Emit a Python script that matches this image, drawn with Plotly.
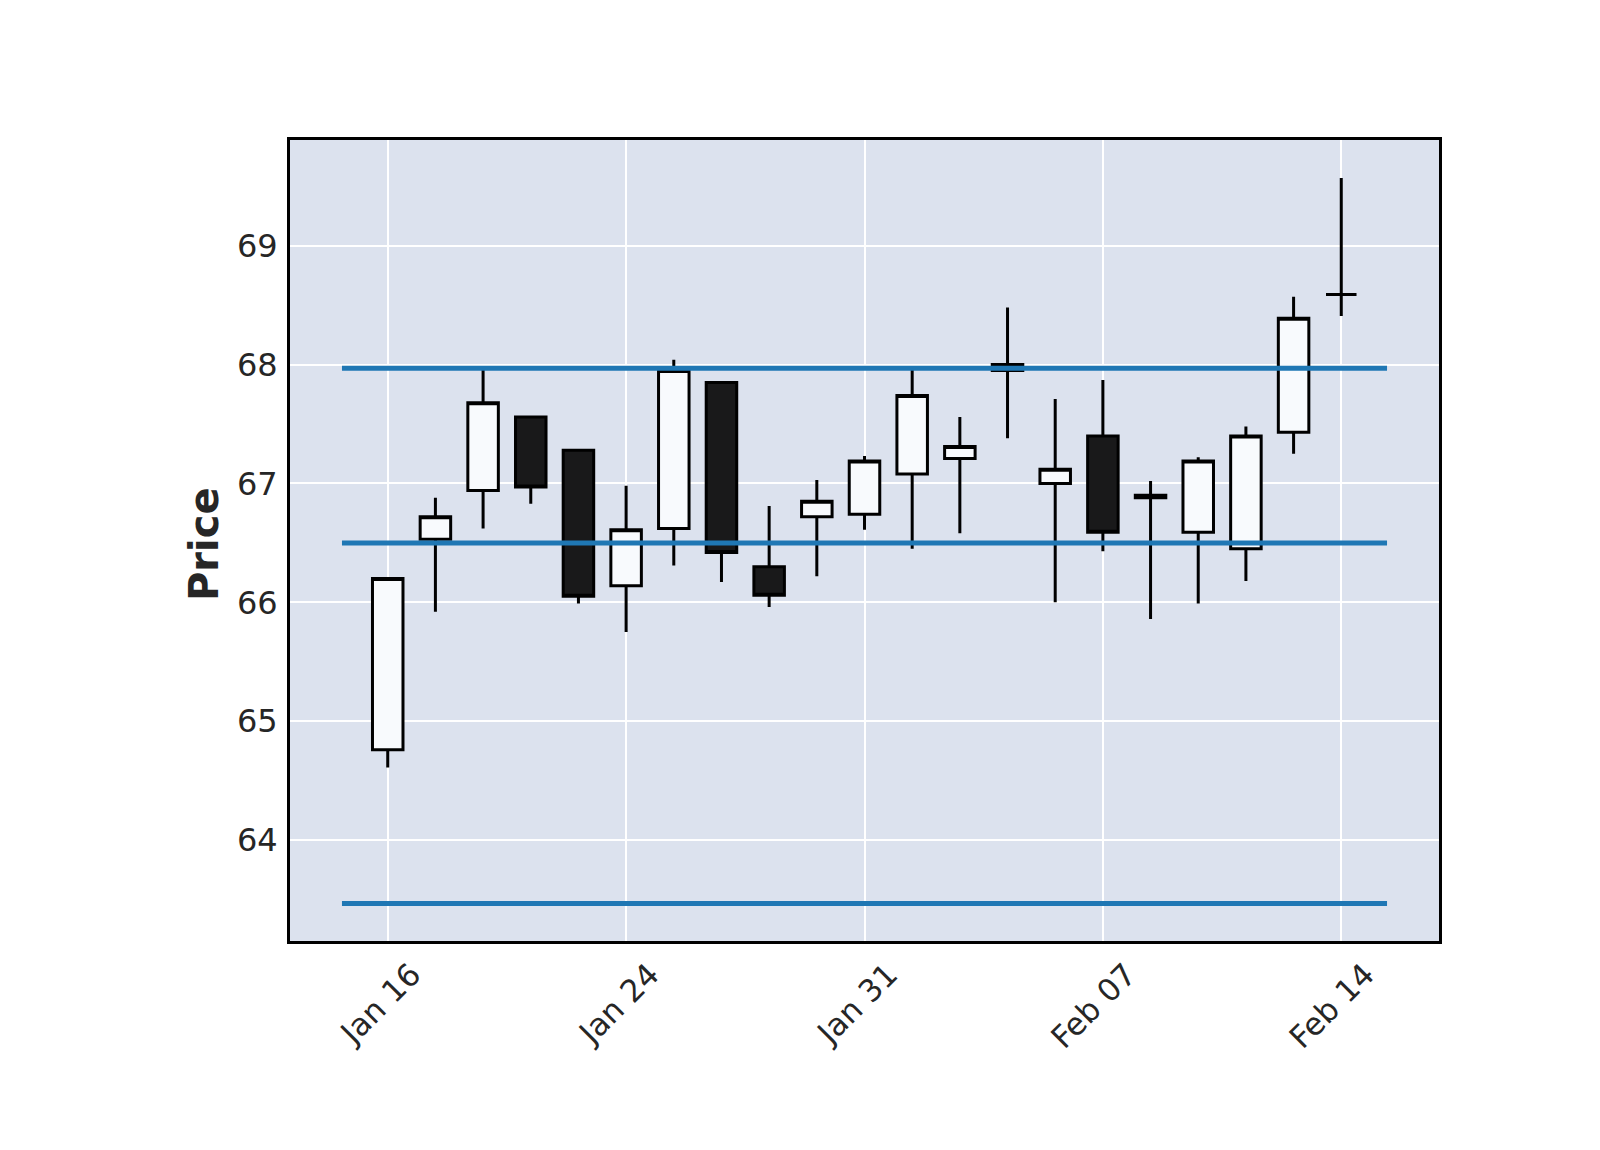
import plotly.graph_objects as go

# ---- data ----
dates = ["2023-01-16", "2023-01-18", "2023-01-19", "2023-01-20", "2023-01-23",
         "2023-01-24", "2023-01-25", "2023-01-26", "2023-01-27", "2023-01-30",
         "2023-01-31", "2023-02-01", "2023-02-02", "2023-02-03", "2023-02-06",
         "2023-02-07", "2023-02-08", "2023-02-09", "2023-02-10", "2023-02-13",
         "2023-02-14"]
opens  = [64.76, 66.53, 66.94, 67.56, 67.28, 66.14, 66.62, 67.85, 66.30, 66.72,
          66.74, 67.08, 67.21, 67.95, 67.00, 67.40, 66.90, 66.59, 66.45, 67.43, 68.59]
highs  = [66.20, 66.88, 67.96, 67.56, 67.28, 66.98, 68.04, 67.85, 66.81, 67.03,
          67.23, 67.96, 67.56, 68.48, 67.71, 67.87, 67.02, 67.22, 67.48, 68.57, 69.57]
lows   = [64.61, 65.92, 66.62, 66.83, 65.99, 65.75, 66.31, 66.17, 65.96, 66.22,
          66.61, 66.45, 66.58, 67.38, 66.00, 66.43, 65.86, 65.99, 66.18, 67.25, 68.41]
closes = [66.20, 66.72, 67.68, 66.97, 66.05, 66.61, 67.95, 66.42, 66.06, 66.85,
          67.19, 67.74, 67.31, 68.00, 67.12, 66.59, 66.88, 67.19, 67.40, 68.39, 68.59]
tick_dates = ["2023-01-16", "2023-01-24", "2023-01-31", "2023-02-07", "2023-02-14"]
tick_labels = ["Jan 16", "Jan 24", "Jan 31", "Feb 07", "Feb 14"]
hline_levels = [67.97, 66.50, 63.465]

# ---- figure ----
x_idx = list(range(len(dates)))
tick_vals = [dates.index(d) for d in tick_dates]
line_pad = 0.96

fig = go.Figure()
fig.add_trace(go.Candlestick(
    x=x_idx, open=opens, high=highs, low=lows, close=closes,
    increasing=dict(fillcolor="#F8FAFD", line=dict(color="#000000", width=3)),
    decreasing=dict(fillcolor="#19191A", line=dict(color="#000000", width=3)),
    whiskerwidth=0, showlegend=False, hoverinfo="x+y",
))
for lvl in hline_levels:
    fig.add_trace(go.Scatter(
        x=[x_idx[0] - line_pad, x_idx[-1] + line_pad], y=[lvl, lvl],
        mode="lines", line=dict(color="#1F77B4", width=5),
        showlegend=False, hoverinfo="skip",
    ))

fig.update_layout(
    width=1600, height=1150,
    margin=dict(l=290, r=161, t=140, b=209),
    paper_bgcolor="#FFFFFF",
    plot_bgcolor="#DCE2EE",
    font=dict(family="DejaVu Sans", color="#262626", size=31),
    boxgap=0.36, boxgroupgap=0,
    showlegend=False,
    annotations=[dict(
        text="<b>Price</b>", textangle=-90, showarrow=False,
        xref="paper", yref="paper", x=-0.0748, y=0.4956,
        xanchor="center", yanchor="middle",
        font=dict(size=40, color="#262626", family="DejaVu Sans"),
    )],
)
fig.update_xaxes(
    range=[-2.05, 22.05],
    tickvals=tick_vals, ticktext=tick_labels, tickangle=-45,
    showgrid=True, gridcolor="#FFFFFF", gridwidth=2,
    showline=True, linecolor="#000000", linewidth=3, mirror=True,
    ticks="", ticklabelshift=24,
    zeroline=False, rangeslider=dict(visible=False),
    tickfont=dict(size=31, color="#262626"),
)
fig.update_yaxes(
    range=[63.15, 69.89],
    tickvals=[64, 65, 66, 67, 68, 69],
    showgrid=True, gridcolor="#FFFFFF", gridwidth=2,
    showline=True, linecolor="#000000", linewidth=3, mirror=True,
    ticks="outside", ticklen=3, tickcolor="rgba(0,0,0,0)",
    zeroline=False,
    tickfont=dict(size=32, color="#262626"),
)

fig.write_html("out.html")
